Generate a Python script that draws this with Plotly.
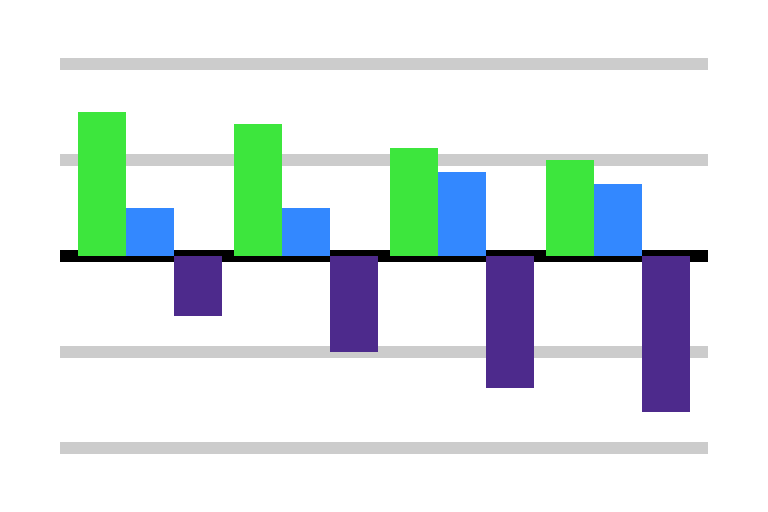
import plotly.graph_objects as go

categories = ["A", "B", "C", "D"]
green_values = [12, 11, 9, 8]
blue_values = [4, 4, 7, 6]
purple_values = [-5, -8, -11, -13]
grid_ticks = [-16, -8, 0, 8, 16]

fig = go.Figure()
fig.add_bar(x=categories, y=green_values, marker=dict(color="#3DE63D", line=dict(width=0)), name="green")
fig.add_bar(x=categories, y=blue_values, marker=dict(color="#3388FF", line=dict(width=0)), name="blue")
fig.add_bar(x=categories, y=purple_values, marker=dict(color="#4D2A8C", line=dict(width=0)), name="purple")

fig.update_layout(
    width=760, height=504,
    margin=dict(l=52, r=60, t=50, b=58),
    paper_bgcolor="white", plot_bgcolor="white",
    barmode="group", bargap=12/156, bargroupgap=0,
    showlegend=False,
    xaxis=dict(range=[-0.5 - 12/156, 3.5 + 12/156], showticklabels=False, showgrid=False,
               zeroline=False, showline=False, ticks=""),
    yaxis=dict(range=[-16.5, 16.5], tickvals=grid_ticks, showticklabels=False,
               showgrid=True, gridcolor="#CCCCCC", gridwidth=12,
               zeroline=True, zerolinecolor="#000000", zerolinewidth=12,
               showline=False, ticks=""),
)
fig.write_html("out.html")
